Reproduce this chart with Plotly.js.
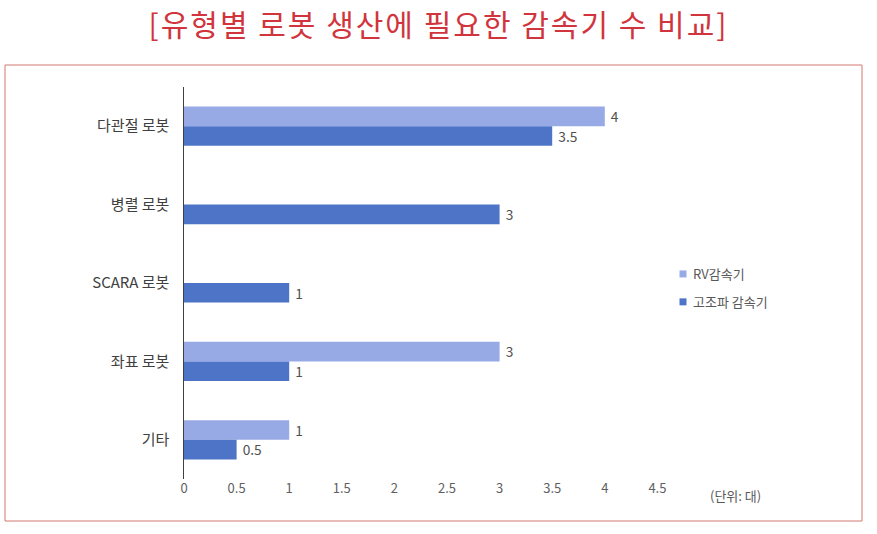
<!DOCTYPE html>
<html>
<head>
<meta charset="utf-8">
<script src="https://cdn.plot.ly/plotly-3.0.1.min.js"></script>
<style>
html,body{margin:0;padding:0;background:#fff;}
#chart{width:877px;height:534px;}
#chart .gtitle{letter-spacing:2px;}
</style>
</head>
<body>
<div id="chart"></div>
<script>
const categories = ["다관절 로봇", "병렬 로봇", "SCARA 로봇", "좌표 로봇", "기타"];
const rvValues = [4, null, null, 3, 1];
const harmonicValues = [3.5, 3, 1, 1, 0.5];
const seriesNames = ["RV감속기", "고조파 감속기"];
const tickValues = [0, 0.5, 1, 1.5, 2, 2.5, 3, 3.5, 4, 4.5];
const tickLabels = ["0", "0.5", "1", "1.5", "2", "2.5", "3", "3.5", "4", "4.5"];

const FONT = '"Noto Sans CJK KR", "Noto Sans", sans-serif';
const labelText = v => v.map(x => x === null ? "" : "\u00a0" + String(x));

const traces = [
  {
    type: "bar", orientation: "h", name: seriesNames[0],
    y: categories, x: rvValues,
    marker: {color: "#98aae6"},
    text: labelText(rvValues), textposition: "outside", cliponaxis: false,
    textfont: {size: 14, color: "#505050", family: FONT},
    hoverinfo: "x+y", legendgroup: "a"
  },
  {
    type: "bar", orientation: "h", name: seriesNames[1],
    y: categories, x: harmonicValues,
    marker: {color: "#4e74c8"},
    text: labelText(harmonicValues), textposition: "outside", cliponaxis: false,
    textfont: {size: 14, color: "#505050", family: FONT},
    hoverinfo: "x+y", legendgroup: "b"
  }
];

const layout = {
  width: 877, height: 534,
  margin: {l: 184, r: 167, t: 87, b: 55},
  paper_bgcolor: "#fff", plot_bgcolor: "#fff",
  font: {family: FONT, color: "#555"},
  title: {
    text: "[유형별 로봇 생산에 필요한 감속기 수 비교]",
    font: {family: FONT, size: 30, color: "#d1343c"},
    x: 0.5, xanchor: "center", y: 1 - 25/534, yanchor: "middle", yref: "container"
  },
  barmode: "group", bargap: 0.5, bargroupgap: 0,
  xaxis: {
    range: [0, 5], tickvals: tickValues, ticktext: tickLabels,
    showgrid: false, zeroline: false, showline: false,
    tickfont: {size: 13, color: "#606060"}, ticks: "", ticklen: 0
  },
  yaxis: {
    autorange: "reversed", showgrid: false, zeroline: false,
    showline: true, linecolor: "#404040", linewidth: 1.5,
    tickfont: {size: 15, color: "#404040"}, ticks: "", ticksuffix: "   "
  },
  legend: {
    x: (663 - 184) / 526, y: (479 - 259) / 392, xanchor: "left", yanchor: "top",
    font: {size: 13, color: "#595959"}, traceorder: "grouped", tracegroupgap: 8,
    bgcolor: "rgba(0,0,0,0)"
  },
  annotations: [{
    xref: "paper", yref: "paper", x: (735 - 184) / 526, y: (479 - 495) / 392,
    text: "(단위: 대)", showarrow: false, xanchor: "center", yanchor: "middle",
    font: {size: 13, color: "#595959"}
  }],
  shapes: [{
    type: "rect", xref: "paper", yref: "paper",
    x0: (5 - 184) / 526, x1: (862 - 184) / 526,
    y0: (479 - 521) / 392, y1: (479 - 65) / 392,
    line: {color: "#d4796f", width: 1}, fillcolor: "rgba(0,0,0,0)", layer: "below"
  }]
};

Plotly.newPlot("chart", traces, layout, {displayModeBar: false, staticPlot: true}).then(gd => {
  // smaller legend swatches, closer to text, as in the reference
  gd.querySelectorAll(".legend .legendpoints path").forEach(p => {
    p.setAttribute("d", "M3.5,3.5H-3.5V-3.5H3.5Z");
  });
  gd.querySelectorAll(".legend .legendtext").forEach(t => {
    t.setAttribute("x", "30");
  });
});
</script>
</body>
</html>
